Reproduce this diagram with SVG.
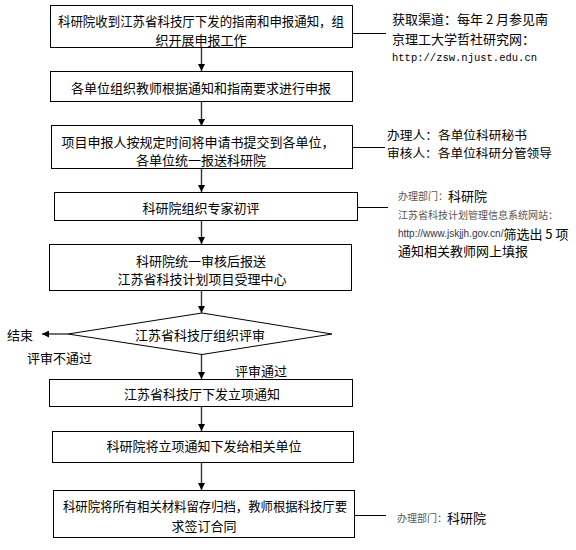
<svg xmlns="http://www.w3.org/2000/svg" width="576" height="550" viewBox="0 0 576 550">
<style>
.box{fill:#fff;stroke:#000;stroke-width:1}
.t{font-family:"Noto Sans CJK SC","Noto Sans",sans-serif;font-size:13px;fill:#000;text-anchor:middle;dominant-baseline:central}
.l{font-family:"Noto Sans CJK SC","Noto Sans",sans-serif;font-size:13px;fill:#000;dominant-baseline:central}
.s{font-size:10px;fill:#555}
.u{font-family:"Liberation Sans","Noto Sans CJK SC",sans-serif;font-size:10px;fill:#334}
.m{font-family:"Liberation Mono",monospace;font-size:11.5px;fill:#000;dominant-baseline:central}
.flow{stroke:#333;stroke-width:1.4;fill:none}
.side{stroke:#000;stroke-width:1;fill:none}
</style>
<defs>
<marker id="ah" viewBox="0 0 10 10" refX="10" refY="5" markerWidth="7" markerHeight="7" markerUnits="userSpaceOnUse" orient="auto">
<path d="M0,0 L10,5 L0,10 z" fill="#000"/>
</marker>
</defs>

<g id="connectors">
<line class="flow" x1="201.5" y1="47" x2="201.5" y2="71" marker-end="url(#ah)"/>
<line class="flow" x1="201.5" y1="101" x2="201.5" y2="126" marker-end="url(#ah)"/>
<line class="flow" x1="201.5" y1="168" x2="201.5" y2="192" marker-end="url(#ah)"/>
<line class="flow" x1="201.5" y1="220" x2="201.5" y2="244" marker-end="url(#ah)"/>
<line class="flow" x1="201.5" y1="290" x2="201.5" y2="313" marker-end="url(#ah)"/>
<line class="flow" x1="201.5" y1="354" x2="201.5" y2="379" marker-end="url(#ah)"/>
<line class="flow" x1="201.5" y1="406" x2="201.5" y2="431" marker-end="url(#ah)"/>
<line class="flow" x1="201.5" y1="462" x2="201.5" y2="490" marker-end="url(#ah)"/>
<line class="flow" x1="68" y1="334" x2="42" y2="334" marker-end="url(#ah)"/>
<line class="side" x1="352" y1="33.5" x2="386" y2="33.5"/>
<line class="side" x1="353" y1="147.5" x2="385" y2="147.5"/>
<line class="side" x1="358" y1="207.5" x2="388" y2="207.5"/>
<line class="side" x1="354" y1="515.5" x2="386" y2="515.5"/>
</g>

<g id="n1">
<rect class="box" x="50.5" y="5.5" width="302" height="42"/>
<text class="t" x="201" y="20" textLength="286" lengthAdjust="spacingAndGlyphs">科研院收到江苏省科技厅下发的指南和申报通知，组</text>
<text class="t" x="201" y="39">织开展申报工作</text>
</g>
<g id="n1note">
<text class="l" x="392" y="18">获取渠道：每年 2 月参见南</text>
<text class="l" x="392" y="38">京理工大学哲社研究网：</text>
<text class="m" x="392" y="57" textLength="145" lengthAdjust="spacingAndGlyphs">http://zsw.njust.edu.cn</text>
</g>

<g id="n2">
<rect class="box" x="50.5" y="71.5" width="302" height="30"/>
<text class="t" x="201" y="87">各单位组织教师根据通知和指南要求进行申报</text>
</g>

<g id="n3">
<rect class="box" x="51.5" y="125.5" width="301" height="43"/>
<text class="t" x="198" y="141">项目申报人按规定时间将申请书提交到各单位，</text>
<text class="t" x="201" y="159">各单位统一报送科研院</text>
</g>
<g id="n3note">
<text class="l" x="387" y="134.5" style="font-size:12px" textLength="140" lengthAdjust="spacingAndGlyphs">办理人：各单位科研秘书</text>
<text class="l" x="387" y="152.5" style="font-size:12px" textLength="165" lengthAdjust="spacingAndGlyphs">审核人：各单位科研分管领导</text>
</g>

<g id="n4">
<rect class="box" x="54.5" y="192.5" width="303" height="28"/>
<text class="t" x="201" y="207">科研院组织专家初评</text>
</g>
<g id="n4note">
<text class="l" x="398" y="195"><tspan class="s">办理部门：</tspan>科研院</text>
<text class="l s" x="398" y="214">江苏省科技计划管理信息系统网站：</text>
<text class="l" x="398" y="233"><tspan class="u">http://www.jskjjh.gov.cn/</tspan>筛选出 5 项</text>
<text class="l" x="398" y="250">通知相关教师网上填报</text>
</g>

<g id="n5">
<rect class="box" x="49.5" y="244.5" width="302" height="46"/>
<text class="t" x="201" y="260">科研院统一审核后报送</text>
<text class="t" x="202" y="278">江苏省科技计划项目受理中心</text>
</g>

<g id="n6">
<polygon class="box" points="68,334 202,313 332,334 202,354.5"/>
<text class="t" x="200" y="334">江苏省科技厅组织评审</text>
</g>
<g id="end">
<text class="l" x="7" y="334">结束</text>
</g>
<g id="labels">
<text class="l" x="27" y="357">评审不通过</text>
<text class="l" x="235" y="370">评审通过</text>
</g>

<g id="n7">
<rect class="box" x="49.5" y="379.5" width="303" height="27"/>
<text class="t" x="202" y="393">江苏省科技厅下发立项通知</text>
</g>

<g id="n8">
<rect class="box" x="52.5" y="431.5" width="301" height="31"/>
<text class="t" x="204" y="445">科研院将立项通知下发给相关单位</text>
</g>

<g id="n9">
<rect class="box" x="53.5" y="490.5" width="301" height="47"/>
<text class="t" x="205" y="505" textLength="284" lengthAdjust="spacingAndGlyphs">科研院将所有相关材料留存归档，教师根据科技厅要</text>
<text class="t" x="204" y="525">求签订合同</text>
</g>
<g id="n9note">
<text class="l" x="397" y="517"><tspan class="s">办理部门：</tspan>科研院</text>
</g>
</svg>
